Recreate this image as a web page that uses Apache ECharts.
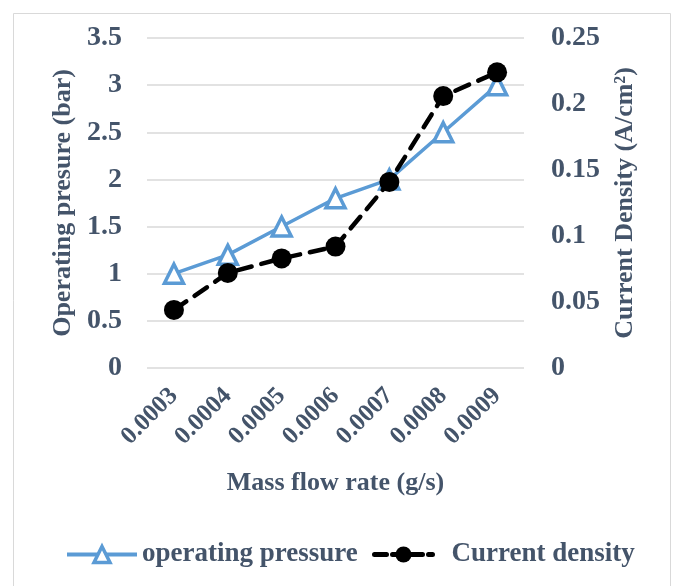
<!DOCTYPE html>
<html>
<head>
<meta charset="utf-8">
<script src="https://cdn.jsdelivr.net/npm/echarts@6/dist/echarts.min.js"></script>
<style>
html,body{margin:0;padding:0;background:#fff;}
#chart{width:674px;height:586px;}
</style>
</head>
<body>
<div id="chart"></div>
<script>
var categories = ['0.0003','0.0004','0.0005','0.0006','0.0007','0.0008','0.0009'];
var operatingPressure = [1, 1.2, 1.5, 1.8, 2, 2.5, 3];
var currentDensity = [0.044, 0.072, 0.083, 0.092, 0.141, 0.206, 0.224];

var txt = '#44546a';
var font = '"Liberation Serif", "Times New Roman", serif';
var titleSize = 26;
var tickSize = 28;
var legendText = { color: txt, fontSize: 27, fontWeight: 'bold', fontFamily: font };
var chart = echarts.init(document.getElementById('chart'));
chart.setOption({
  animation: false,
  backgroundColor: '#fff',
  textStyle: { fontFamily: font },
  graphic: [{
    type: 'rect', shape: { x: 13.5, y: 13.5, width: 657, height: 580 },
    style: { fill: 'none', stroke: '#d9d9d9', lineWidth: 1 }, silent: true, z: -1
  }],
  grid: { left: 147, right: 150, top: 38, bottom: 218 },
  legend: [{
    top: 541, left: 65, itemWidth: 70, itemHeight: 20, padding: 0,
    textStyle: legendText,
    lineStyle: { width: 4 },
    itemStyle: { borderWidth: 3.5 },
    data: ['operating pressure']
  }, {
    top: 541, left: 372, itemWidth: 58, itemHeight: 20, padding: 0,
    textStyle: Object.assign({ padding: [0, 0, 0, 14] }, legendText),
    lineStyle: { width: 5, type: [12, 6] },
    data: ['Current density']
  }],
  xAxis: {
    type: 'category', data: categories, boundaryGap: true,
    name: 'Mass flow rate (g/s)', nameLocation: 'middle', nameGap: 102,
    nameTextStyle: { color: txt, fontSize: titleSize, fontWeight: 'bold', fontFamily: font },
    axisLine: { show: false }, axisTick: { show: false },
    axisLabel: { rotate: 45, color: txt, fontSize: 25, fontWeight: 'bold', fontFamily: font, margin: 24, interval: 0 }
  },
  yAxis: [{
    type: 'value', min: 0, max: 3.5, interval: 0.5, position: 'left',
    name: 'Operating presure (bar)', nameLocation: 'middle', nameGap: 71, nameRotate: 90,
    nameTextStyle: { color: txt, fontSize: titleSize, fontWeight: 'bold', fontFamily: font },
    axisLine: { show: false }, axisTick: { show: false },
    axisLabel: { color: txt, fontSize: tickSize, fontWeight: 'bold', fontFamily: font, margin: 25 },
    splitLine: { lineStyle: { color: '#d9d9d9', width: 1.5 } }
  }, {
    type: 'value', min: 0, max: 0.25, interval: 0.05, position: 'right',
    name: 'Current Density (A/cm²)', nameLocation: 'middle', nameGap: 88, nameRotate: 90,
    nameTextStyle: { color: txt, fontSize: titleSize, fontWeight: 'bold', fontFamily: font },
    axisLine: { show: false }, axisTick: { show: false },
    axisLabel: { color: txt, fontSize: tickSize, fontWeight: 'bold', fontFamily: font, margin: 27 },
    splitLine: { show: false }
  }],
  series: [{
    name: 'operating pressure', type: 'line', yAxisIndex: 0, data: operatingPressure,
    symbol: 'triangle', symbolSize: 19,
    lineStyle: { color: '#5b9bd5', width: 3.5 },
    itemStyle: { color: '#fff', borderColor: '#5b9bd5', borderWidth: 3.5 },
    z: 2
  }, {
    name: 'Current density', type: 'line', yAxisIndex: 1, data: currentDensity,
    symbol: 'circle', symbolSize: 20,
    lineStyle: { color: '#000', width: 4.5, type: [15, 10], cap: 'round' },
    itemStyle: { color: '#000', borderColor: '#000', borderWidth: 0 },
    z: 3
  }]
});
</script>
</body>
</html>
